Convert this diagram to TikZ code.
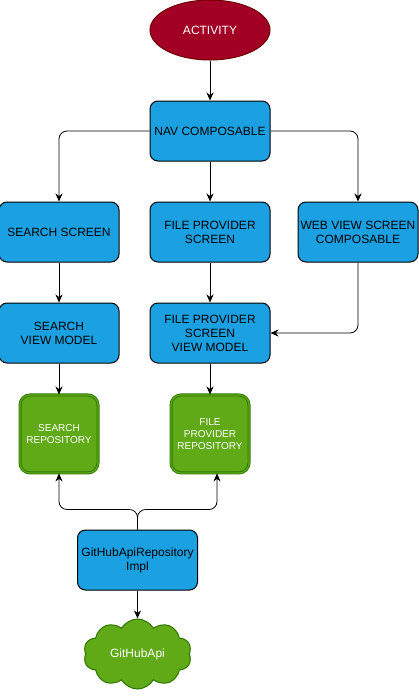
\documentclass[tikz,border=0pt]{standalone}
\usepackage{fontspec}
\setmainfont{Liberation Sans}
\usetikzlibrary{shapes,shapes.geometric,shapes.symbols,arrows.meta}
\usetikzlibrary{positioning}
\definecolor{blockblue}{HTML}{1BA1E2}
\definecolor{actred}{HTML}{A20025}
\definecolor{actredline}{HTML}{6F0000}
\definecolor{repogreen}{HTML}{60A917}
\definecolor{repogreenline}{HTML}{2D7600}

\begin{document}
\begin{tikzpicture}[
block/.style={rectangle,draw=black,fill=blockblue,line width=1pt,align=center,rounded corners=8pt,minimum width=120pt,minimum height=60pt,inner sep=1pt,font=\fontsize{12}{14}\selectfont},
activity/.style={ellipse,draw=actredline,fill=actred,line width=1pt,text=white,minimum width=120pt,minimum height=60pt,inner sep=0pt,font=\fontsize{12}{14}\selectfont},
repo/.style={rectangle,draw=repogreenline,double=repogreen,double distance=1.2pt,line width=0.9pt,fill=repogreen,text=white,align=center,rounded corners=10pt,minimum width=78pt,minimum height=78pt,inner sep=1pt,font=\fontsize{10}{12}\selectfont},
api/.style={cloud,cloud puffs=10,cloud puff arc=120,aspect=1.6,draw=repogreenline,fill=repogreen,line width=1pt,text=white,minimum width=108pt,minimum height=70pt,inner sep=0pt,font=\fontsize{12}{14}\selectfont},
line/.style={draw,line width=0.8pt,-{Stealth[length=8pt,width=7pt,inset=2.5pt]},rounded corners=8pt}]

\useasboundingbox (0,0) rectangle (419pt,-697pt);

\node [activity] (act) at (210pt,-30pt) {ACTIVITY};
\node [block, below=40pt of act] (nav) {NAV COMPOSABLE};

\node [block, below=40pt of nav] (fps) {FILE PROVIDER\\SCREEN};
\node [block, left=30pt of fps] (ss) {SEARCH SCREEN};
\node [block, right=27pt of fps] (wv) {WEB VIEW SCREEN\\COMPOSABLE};

\node [block, below=40pt of ss] (svm) {SEARCH\\VIEW MODEL};
\node [block, below=40pt of fps] (fpvm) {FILE PROVIDER\\SCREEN\\VIEW MODEL};

\node [repo, below=31pt of svm] (srep) {SEARCH\\REPOSITORY};
\node [repo, below=31pt of fpvm] (fprep) {FILE\\PROVIDER\\REPOSITORY};

\node [block] (impl) at (137.5pt,-560pt) {GitHubApiRepository\\Impl};
\node [api, below=28pt of impl] (gh) {GitHubApi};

\coordinate [above=20pt of impl] (split);

\path [line] (act) -- (nav);
\path [line] (nav.west) -| (ss);
\path [line] (nav) -- (fps);
\path [line] (nav.east) -| (wv);

\path [line] (ss) -- (svm);
\path [line] (fps) -- (fpvm);
\path [line] (wv.south) |- (fpvm.east);

\path [line] (svm) -- (srep);
\path [line] (fpvm) -- (fprep);

\path [line] (impl.north) -- (split) -| (srep.south);
\path [line] (impl.north) -- (split) -| ([xshift=7pt]fprep.south);
\path [line] (impl) -- (gh);
\end{tikzpicture}
\end{document}
